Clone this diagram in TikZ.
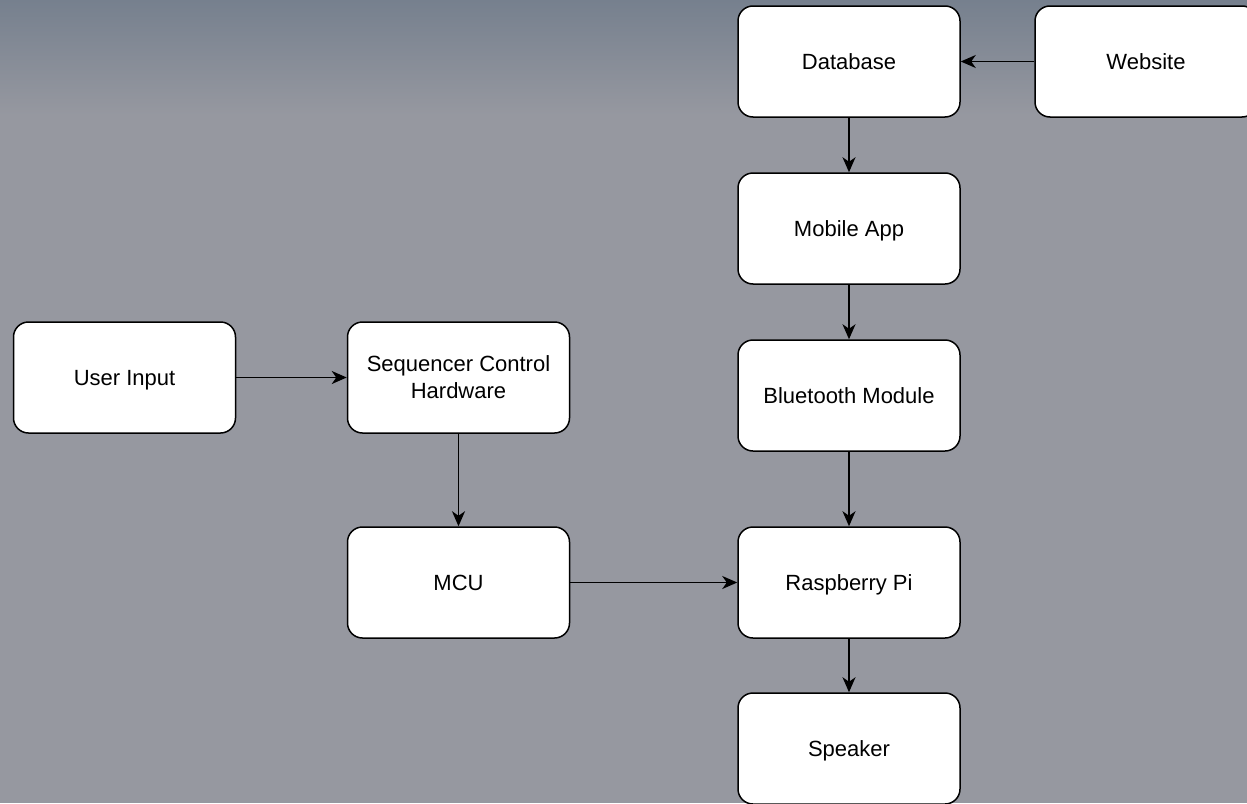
\documentclass[tikz,border=0pt]{standalone}
\usepackage{fontspec}
\setmainfont{Liberation Sans}
\usetikzlibrary{arrows.meta}

\definecolor{bgtop}{RGB}{118,128,142}
\definecolor{bgmain}{RGB}{150,152,160}

\tikzset{
  block/.style={draw=black, line width=1.5pt, fill=white, rounded corners=15pt,
    minimum width=222pt, minimum height=111pt, align=center,
    inner sep=0pt, font=\fontsize{22}{27}\selectfont},
  oneline/.style={block, text height=16pt, text depth=0pt},
  flow/.style={line width=1.6pt, draw=black,
    -{Stealth[length=15pt,width=13pt,inset=4.5pt]}}
}

\begin{document}
\begin{tikzpicture}[x=1pt,y=-1pt]
  % canvas and background
  \useasboundingbox (0,0) rectangle (1247,803);
  \clip (0,0) rectangle (1247,803);
  \fill[bgmain] (0,0) rectangle (1247,803);
  \shade[top color=bgtop, bottom color=bgmain] (0,0) rectangle (1247,115);

  % right column
  \node[oneline] (db)    at (849,61.5)  {Database};
  \node[oneline] (web)   at (1146,61.5) {Website};
  \node[oneline] (app)   at (849,228.5) {Mobile App};
  \node[oneline] (bt)    at (849,395.5) {Bluetooth Module};
  \node[oneline] (pi)    at (849,582.5) {Raspberry Pi};
  \node[oneline] (spk)   at (849,748.5) {Speaker};

  % left side
  \node[oneline] (user)  at (124.5,377.5) {User Input};
  \node[block]   (seq)   at (458.5,377.5) {Sequencer Control\\Hardware};
  \node[oneline] (mcu)   at (458.5,582.5) {MCU};

  % connectors
  \draw[flow] (web) -- (db);
  \draw[flow] (db) -- (app);
  \draw[flow] (app) -- (bt);
  \draw[flow] (bt) -- (pi);
  \draw[flow] (pi) -- (spk);
  \draw[flow] (user) -- (seq);
  \draw[flow] (seq) -- (mcu);
  \draw[flow] (mcu) -- (pi);
\end{tikzpicture}
\end{document}
